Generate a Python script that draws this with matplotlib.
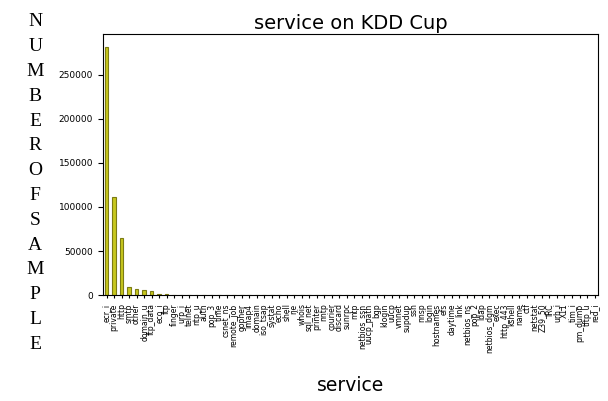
import numpy as np
import matplotlib.pyplot as plt

services = ['ecr_i', 'private', 'http', 'smtp', 'other', 'domain_u', 'ftp_data',
            'eco_i', 'ftp', 'finger', 'urp_i', 'telnet', 'ntp_u', 'auth', 'pop_3',
            'time', 'csnet_ns', 'remote_job', 'gopher', 'imap4', 'domain',
            'iso_tsap', 'systat', 'echo', 'shell', 'rje', 'whois', 'sql_net',
            'printer', 'nntp', 'courier', 'discard', 'sunrpc', 'mtp',
            'netbios_ssn', 'uucp_path', 'bgp', 'klogin', 'uucp', 'vmnet',
            'supdup', 'ssh', 'nnsp', 'login', 'hostnames', 'efs', 'daytime',
            'link', 'netbios_ns', 'pop_2', 'ldap', 'netbios_dgm', 'exec',
            'http_443', 'kshell', 'name', 'ctf', 'netstat', 'Z39_50', 'IRC',
            'urh_i', 'X11', 'tim_i', 'pm_dump', 'tftp_u', 'red_i']
counts = [281400, 110893, 64293, 9723, 7237, 5863, 4721,
          1642, 798, 670, 538, 513, 380, 328, 202,
          157, 126, 120, 117, 117, 116,
          115, 106, 112, 112, 111, 110, 110,
          109, 108, 108, 108, 107, 107,
          107, 106, 106, 106, 106, 106,
          105, 105, 105, 104, 104, 103, 103,
          102, 102, 101, 101, 99, 99,
          99, 98, 98, 97, 95, 92, 43,
          14, 11, 7, 1, 1, 1]

fig = plt.figure(figsize=(6.08, 4.01), dpi=100)
ax = fig.add_axes([0.169, 0.264, 0.815, 0.65])

x = np.arange(len(services))
ax.bar(x, counts, width=0.5, color='#c8c81e', edgecolor='#7c7c14', linewidth=0.8)
ax.set_xlim(-0.5, len(services) - 0.5)
ax.set_ylim(0, max(counts) * 1.05)
ax.set_xticks(x)
ax.set_xticklabels(services, rotation=90, fontsize=5.5)
ax.set_yticks([0, 50000, 100000, 150000, 200000, 250000])
ax.ticklabel_format(axis='y', style='plain')
ax.tick_params(axis='y', labelsize=6.5)
ax.tick_params(axis='x', length=2.5)

ax.set_title('service on KDD Cup', fontsize=14, pad=4)
ax.set_xlabel('service', fontsize=13.5, labelpad=17)

# vertical y label, one letter per line
for i, ch in enumerate('NUMBEROFSAMPLE'):
    fig.text(0.058, 1 - (22 + i * 24.8) / 401, ch, family='Liberation Serif',
             fontsize=14, ha='center', va='center')

fig.savefig('out.png', dpi=100)
